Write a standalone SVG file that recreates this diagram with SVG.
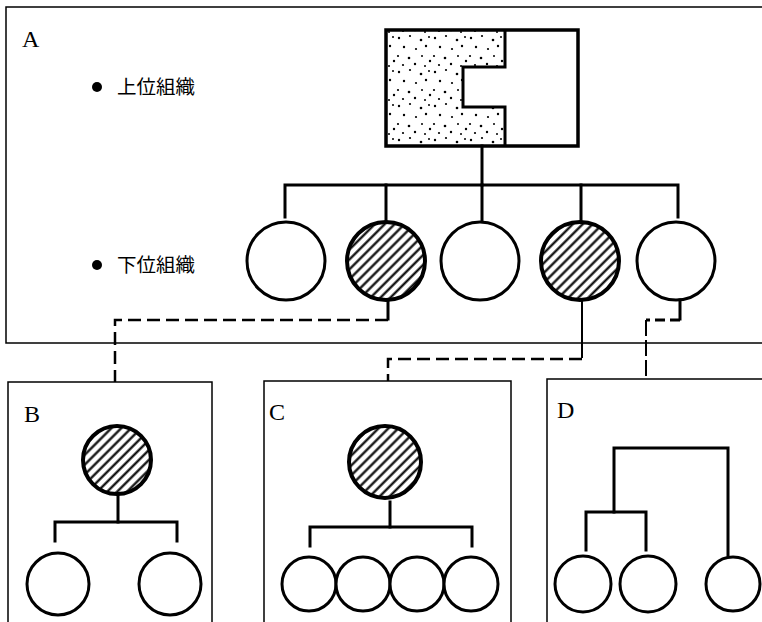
<svg xmlns="http://www.w3.org/2000/svg" width="762" height="622" viewBox="0 0 762 622">
<style>
.frame{fill:none;stroke:#000;stroke-width:1.5}
.lbl{font-family:"Liberation Serif","Noto Sans CJK JP",serif;font-size:24px;fill:#000}
.jp{font-family:"Liberation Serif","Noto Sans CJK JP",serif;font-size:19.5px;fill:#000}
.open{fill:#fff;stroke:#000;stroke-width:3}
.hatch{fill:url(#hatch);stroke:#000;stroke-width:4}
.line{fill:none;stroke:#000;stroke-width:3;stroke-linecap:square}
.dash{fill:none;stroke:#000;stroke-width:2.5;stroke-dasharray:13 6}
.thin{fill:none;stroke:#000;stroke-width:2}
</style>
<defs>
<pattern id="hatch" patternUnits="userSpaceOnUse" width="7" height="7" patternTransform="rotate(-45)">
<rect width="7" height="7" fill="#fff"/>
<line x1="0" y1="3.5" x2="7" y2="3.5" stroke="#000" stroke-width="2.2"/>
</pattern>
<pattern id="stipple" patternUnits="userSpaceOnUse" width="36" height="34">
<rect width="36" height="34" fill="#fff"/>
<g fill="#000">
<circle cx="3" cy="4" r="1.2"/><circle cx="14" cy="2" r="1.1"/><circle cx="25" cy="6" r="1.3"/>
<circle cx="33" cy="3" r="1"/><circle cx="8" cy="13" r="1.2"/><circle cx="20" cy="15" r="1.1"/>
<circle cx="30" cy="12" r="1.2"/><circle cx="2" cy="22" r="1.1"/><circle cx="13" cy="24" r="1.3"/>
<circle cx="26" cy="22" r="1"/><circle cx="34" cy="27" r="1.2"/><circle cx="7" cy="31" r="1.1"/>
<circle cx="19" cy="30" r="1.2"/><circle cx="29" cy="32" r="1"/>
</g>
</pattern>
</defs>

<g id="frame-A">
<rect class="frame" x="6" y="7" width="770" height="336"/>
<text class="lbl" x="22" y="47">A</text>
<circle cx="97" cy="87" r="5" fill="#000"/>
<text class="jp" x="117" y="94">上位組織</text>
<circle cx="97" cy="265" r="5" fill="#000"/>
<text class="jp" x="117" y="272">下位組織</text>
</g>

<g id="top-org">
<polygon points="386,30 505,30 505,67 463,67 463,107 505,107 505,146 386,146" fill="url(#stipple)"/>
<rect x="386" y="30" width="192" height="116" fill="none" stroke="#000" stroke-width="3.5"/>
<polyline points="505,30 505,67 463,67 463,107 505,107 505,146" fill="none" stroke="#000" stroke-width="3"/>
</g>

<g id="sub-1"><circle class="open" cx="286" cy="261" r="39"/></g>
<g id="sub-2"><circle class="hatch" cx="386" cy="261" r="39"/></g>
<g id="sub-3"><circle class="open" cx="480" cy="261" r="39"/></g>
<g id="sub-4"><circle class="hatch" cx="580" cy="261" r="39"/></g>
<g id="sub-5"><circle class="open" cx="676" cy="261" r="39"/></g>

<g id="frame-B">
<rect class="frame" x="8" y="382" width="204" height="260"/>
<text class="lbl" x="24" y="422">B</text>
</g>
<g id="B-top"><circle class="hatch" cx="117" cy="460" r="34"/></g>
<g id="B-1"><circle class="open" cx="58" cy="584" r="31"/></g>
<g id="B-2"><circle class="open" cx="170" cy="584" r="31"/></g>

<g id="frame-C">
<rect class="frame" x="264" y="381" width="247" height="260"/>
<text class="lbl" x="269" y="420">C</text>
</g>
<g id="C-top"><circle class="hatch" cx="385" cy="462" r="36"/></g>
<g id="C-1"><circle class="open" cx="309" cy="584" r="27"/></g>
<g id="C-2"><circle class="open" cx="363" cy="584" r="27"/></g>
<g id="C-3"><circle class="open" cx="417" cy="584" r="27"/></g>
<g id="C-4"><circle class="open" cx="471" cy="584" r="27"/></g>

<g id="frame-D">
<rect class="frame" x="547" y="379" width="230" height="260"/>
<text class="lbl" x="557" y="418">D</text>
</g>
<g id="D-1"><circle class="open" cx="583" cy="584" r="28"/></g>
<g id="D-2"><circle class="open" cx="648" cy="584" r="28"/></g>
<g id="D-3"><circle class="open" cx="733" cy="584" r="27"/></g>

<g id="connectors">
<line class="line" x1="482" y1="146" x2="482" y2="185"/>
<polyline class="line" points="285,217 285,185 678,185 678,217"/>
<line class="line" x1="386" y1="185" x2="386" y2="220"/>
<line class="line" x1="482" y1="185" x2="482" y2="220"/>
<line class="line" x1="581" y1="185" x2="581" y2="220"/>
<line class="line" x1="388" y1="300" x2="388" y2="319"/>
<polyline class="dash" points="388,320 115,320 115,382"/>
<line class="thin" x1="582" y1="300" x2="582" y2="358"/>
<polyline class="dash" points="582,359 388,359 388,381"/>
<line class="line" x1="680" y1="300" x2="680" y2="319"/>
<polyline class="dash" points="680,320 646,320" style="stroke-width:3;stroke-dasharray:10 5"/>
<line class="thin" x1="646" y1="320" x2="646" y2="379" style="stroke-dasharray:16 4"/>
<line class="line" x1="118" y1="496" x2="118" y2="522"/>
<polyline class="line" points="55,541 55,522 177,522 177,541"/>
<line class="line" x1="390" y1="502" x2="390" y2="527"/>
<polyline class="line" points="310,546 310,527 472,527 472,546"/>
<polyline class="line" points="614,512 614,448 728,448 728,555"/>
<polyline class="line" points="586,550 586,512 646,512 646,550"/>
</g>
</svg>
